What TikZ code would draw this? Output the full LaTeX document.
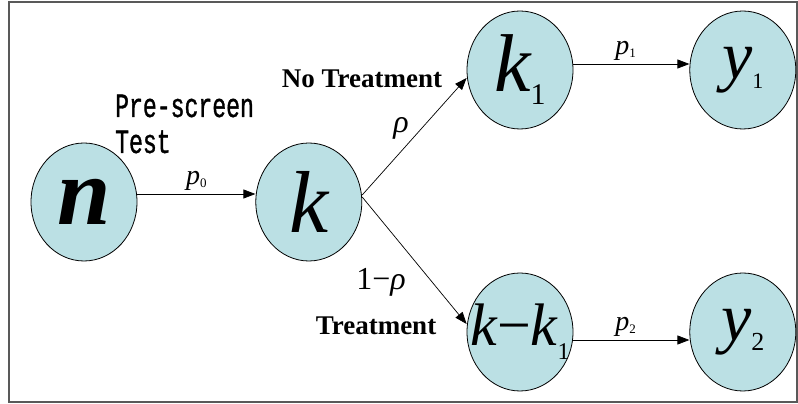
\documentclass[tikz,border=0pt]{standalone}
\usepackage{fontspec}
\setmainfont{Liberation Serif}
\newfontfamily\testfont[FakeStretch=0.68, FakeBold=1]{Liberation Mono}
\usetikzlibrary{shapes.geometric, arrows.meta, positioning, calc}
\definecolor{cnode}{RGB}{187,224,228}
\definecolor{cframe}{gray}{0.35}
% lowered index: drop, size, text
\newcommand\nsub[3]{\raisebox{-#1pt}{\fontsize{#2}{#2}\selectfont\upshape\mdseries #3}}

\begin{document}
\begin{tikzpicture}[
    x=1pt, y=1pt,
    state/.style={ellipse, draw=black, fill=cnode, line width=0.8pt, minimum width=106pt, minimum height=118pt, inner sep=0pt},
    flow/.style={-{Triangle[length=12pt,width=9pt]}, line width=0.7pt},
    rate/.style={font=\fontsize{28}{28}\selectfont\itshape, inner sep=1pt},
    branch/.style={font=\fontsize{27}{27}\selectfont\bfseries, inner sep=0pt},
    prob/.style={font=\fontsize{32}{32}\selectfont, inner sep=0pt}
]
\useasboundingbox (0,0) rectangle (798,404);
\draw[cframe, line width=1.2pt] (9,2) rectangle (797,402);

\node[state] (n) at (84,202) {\makebox[0pt]{\fontsize{96}{96}\selectfont\bfseries\itshape n}};
\node[state, right=118pt of n] (k) {\makebox[0pt]{\fontsize{88}{88}\selectfont\itshape k}};
\node[state] (k1) at (520,334) {\makebox[0pt]{{\fontsize{82}{82}\selectfont\itshape k}\nsub{13}{30}{1}}};
\node[state, right=116pt of k1] (y1) {\makebox[0pt]{{\fontsize{68}{68}\selectfont\itshape y}\nsub{10}{22}{1}}};
\node[state] (kk1) at (520,72) {\makebox[0pt]{{\fontsize{60}{60}\selectfont\itshape k\upshape −\itshape k}\nsub{14}{24}{1}}};
\node[state, right=116pt of kk1] (y2) {\makebox[0pt]{{\fontsize{68}{68}\selectfont\itshape y}\nsub{10}{26}{2}}};

\node[anchor=base west, align=left, inner sep=0pt, font=\testfont\fontsize{34}{36}\selectfont] (pre) at (115,251) {Pre-screen\\Test};
\node[branch] (notreat) at (362,325) {No Treatment};
\node[prob, anchor=base] (rho) at (401,271) {\itshape ρ};
\node[prob, anchor=base] (onerho) at (381,114) {1−\itshape ρ};
\node[branch] (treat) at (376,78) {Treatment};

\draw[flow] ([yshift=8pt]n.east) -- node[rate, midway, above=2pt] {p\nsub{3}{13}{0}} ([yshift=8pt]k.west);
\draw[flow] ([yshift=7pt]k.east) -- ([yshift=-8pt]k1.west);
\draw[flow] ([yshift=5pt]k.east) -- ([yshift=8pt]kk1.west);
\draw[flow] ([yshift=6pt]k1.east) -- node[rate, pos=0.45, above=2pt] {p\nsub{3}{13}{1}} ([yshift=6pt]y1.west);
\draw[flow] ([yshift=-8pt]kk1.east) -- node[rate, pos=0.45, above=2pt] {p\nsub{3}{13}{2}} ([yshift=-8pt]y2.west);
\end{tikzpicture}
\end{document}
